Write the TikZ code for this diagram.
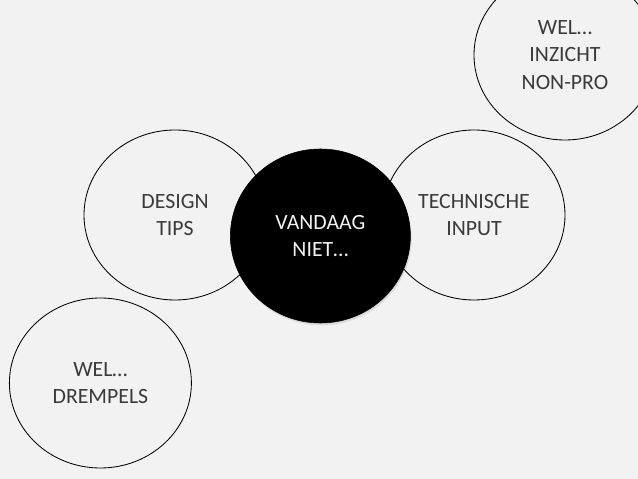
\documentclass[tikz,border=0pt]{standalone}
\usepackage{fontspec}
\setmainfont{Carlito}
\usepackage{xcolor}
\usepackage{tikz}
\usetikzlibrary{shapes.geometric, shadows}
\definecolor{slidebg}{HTML}{F2F2F2}
\definecolor{labelgray}{HTML}{3A3A3A}
\tikzstyle{bubble} = [ellipse, minimum width=4.55cm, minimum height=4.25cm, align=center, draw=black, line width=0.6pt, text=labelgray, font=\fontsize{15.5}{19.5}\selectfont]
\tikzstyle{core} = [ellipse, minimum width=4.5cm, minimum height=4.35cm, align=center, fill=black, draw=black, text=white!95!black, font=\fontsize{15.5}{19.5}\selectfont, drop shadow={opacity=0.2, shadow xshift=0.03cm, shadow yshift=-0.06cm}]

\begin{document}
\begin{tikzpicture}

% Background
\fill [slidebg] (0,0) rectangle (15.95,11.975);
\useasboundingbox (0,0) rectangle (15.95,11.975);
\clip (0,0) rectangle (15.95,11.975);

% Nodes
\node (design) [bubble] at (4.375,6.6) {DESIGN\\TIPS};
\node (techniek) [bubble] at (11.85,6.6) {TECHNISCHE\\INPUT};
\node (inzicht) [bubble] at (14.125,10.6) {WEL…\\INZICHT\\NON-PRO};
\node (drempels) [bubble] at (2.51,2.4) {WEL…\\DREMPELS};
\node (vandaag) [core] at (8.01,6.075) {VANDAAG\\NIET…};

\end{tikzpicture}
\end{document}
